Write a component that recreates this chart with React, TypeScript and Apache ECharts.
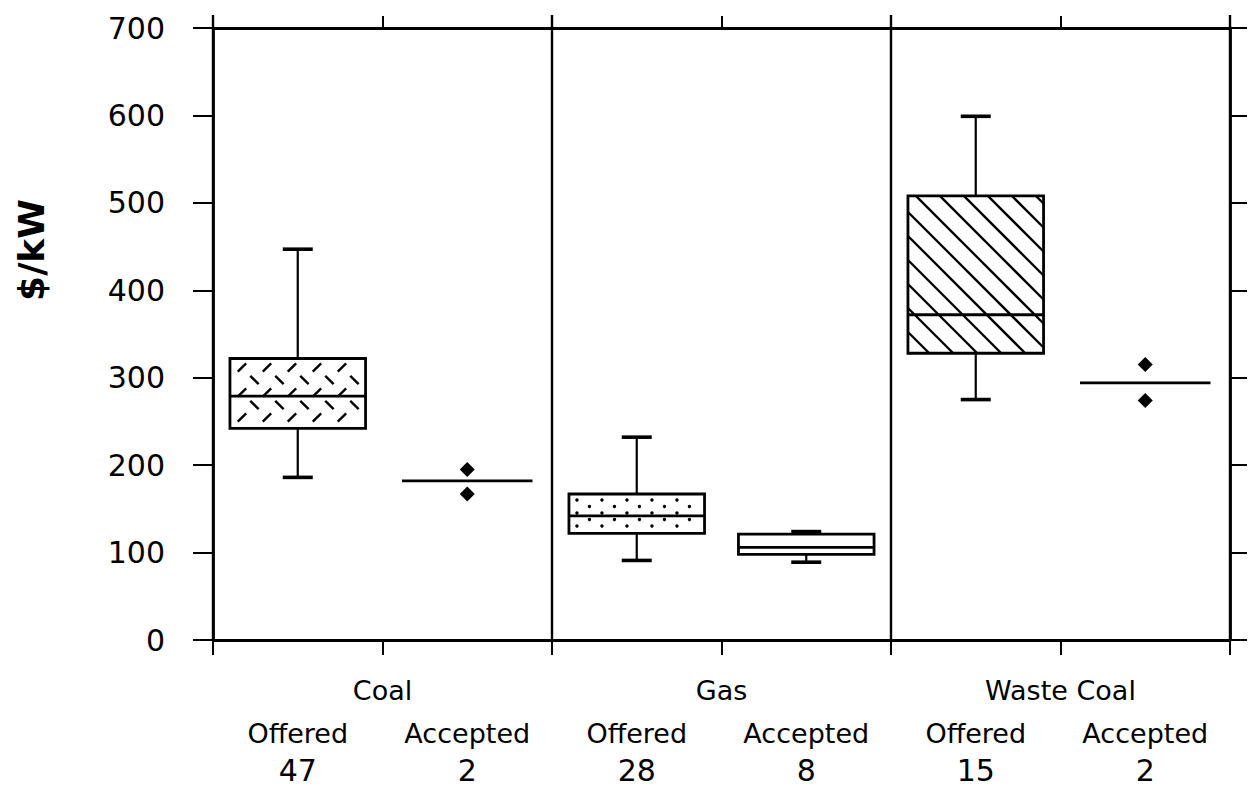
import React, { useEffect, useRef } from 'react';
import * as echarts from 'echarts';

// ---------- data ----------
const groupNames = ['Coal', 'Gas', 'Waste Coal'];
const categories = [
  'Coal Offered', 'Coal Accepted',
  'Gas Offered', 'Gas Accepted',
  'Waste Coal Offered', 'Waste Coal Accepted',
];
const subLabels = ['Offered', 'Accepted', 'Offered', 'Accepted', 'Offered', 'Accepted'];
const counts = [47, 2, 28, 8, 15, 2];

// box statistics ($/kW); null = only the median is drawn (n = 2)
const whiskerLow = [186, null, 91, 89, 275, null];
const quartile1 = [242, null, 122, 98, 328, null];
const medians = [279, 182, 142, 106, 372, 294];
const quartile3 = [322, null, 167, 121, 508, null];
const whiskerHigh = [447, null, 232, 124, 599, null];

// individual accepted bids shown as points
const pointCategory = [1, 1, 5, 5];
const pointValue = [195, 167, 315, 274];

// fill pattern of each box
const fillPatterns = ['plate', 'none', 'dots', 'none', 'hatch', 'none'];

const yMin = 0;
const yMax = 700;
const yInterval = 100;

// ---------- helpers ----------
const BLACK = '#000';
const SANS = "'DejaVu Sans', 'Liberation Sans', sans-serif";

function renderBox(params: any, api: any) {
  const idx = api.value(0);
  const lo = api.value(1);
  const q1 = api.value(2);
  const med = api.value(3);
  const q3 = api.value(4);
  const hi = api.value(5);
  const band = api.size([1, 0])[0];
  const cx = api.coord([idx, med])[0];
  const Y = (v: number) => api.coord([idx, v])[1];
  const children: any[] = [];
  const ln = (x1: number, y1: number, x2: number, y2: number, w: number) => ({
    type: 'line',
    shape: { x1, y1, x2, y2 },
    style: { stroke: BLACK, lineWidth: w, lineCap: 'butt' },
  });

  if (Math.abs(q3 - q1) < 1e-6) {
    const half = (band * 0.77) / 2;
    children.push(ln(cx - half, Y(med), cx + half, Y(med), 2.8));
    return { type: 'group', children };
  }

  const bw = band * 0.8;
  const x0 = cx - bw / 2;
  const x1 = cx + bw / 2;
  const yTop = Y(q3);
  const yBot = Y(q1);
  const capHalf = 15;

  // whiskers
  if (hi > q3) {
    children.push(ln(cx, yTop, cx, Y(hi), 2.2));
    children.push(ln(cx - capHalf, Y(hi), cx + capHalf, Y(hi), 3.6));
  }
  if (lo < q1) {
    children.push(ln(cx, yBot, cx, Y(lo), 2.2));
    children.push(ln(cx - capHalf, Y(lo), cx + capHalf, Y(lo), 3.6));
  }

  children.push({
    type: 'rect',
    shape: { x: x0, y: yTop, width: bw, height: yBot - yTop },
    style: { fill: '#fff', stroke: 'none' },
  });

  const pattern = fillPatterns[idx];
  if (pattern === 'hatch') {
    const s = 24;
    const cMin = x0 - yBot;
    const cMax = x1 - yTop;
    for (let c = Math.ceil(cMin / s) * s; c <= cMax; c += s) {
      const ya = Math.max(yTop, x0 - c);
      const yb = Math.min(yBot, x1 - c);
      if (yb - ya > 1) children.push(ln(ya + c, ya, yb + c, yb, 2.3));
    }
  } else if (pattern === 'dots') {
    let row = 0;
    for (let y = yTop + 6; y < yBot - 3; y += 6.5, row++) {
      for (let x = x0 + 8 + (row % 2) * 12.5; x < x1 - 4; x += 25) {
        children.push({
          type: 'circle',
          shape: { cx: x, cy: y, r: 1.7 },
          style: { fill: BLACK },
        });
      }
    }
  } else if (pattern === 'plate') {
    let row = 0;
    const d = 4.2;
    for (let y = yTop + 9; y < yBot - 5; y += 12.5, row++) {
      const slash = row % 2 === 0;
      for (let x = x0 + 12 + (row % 2) * 12.5; x < x1 - 6; x += 25) {
        if (slash) children.push(ln(x - d, y + d, x + d, y - d, 2.4));
        else children.push(ln(x - d, y - d, x + d, y + d, 2.4));
      }
    }
  }

  children.push({
    type: 'rect',
    shape: { x: x0, y: yTop, width: bw, height: yBot - yTop },
    style: { fill: 'none', stroke: BLACK, lineWidth: 2.8 },
  });
  children.push(ln(x0, Y(med), x1, Y(med), 2.8));
  return { type: 'group', children };
}

export default function App() {
  const ref = useRef<HTMLDivElement>(null);

  useEffect(() => {
    if (!ref.current) return;
    const chart = echarts.init(ref.current, undefined, { renderer: 'svg' });

    const boxData = categories.map((_, i) => {
      const m = medians[i];
      return [
        i,
        whiskerLow[i] ?? m,
        quartile1[i] ?? m,
        m,
        quartile3[i] ?? m,
        whiskerHigh[i] ?? m,
      ];
    });

    const axisLine = { show: true, lineStyle: { color: BLACK, width: 2.8 } };

    chart.setOption({
      animation: false,
      backgroundColor: '#fff',
      grid: { left: 213, right: 21, top: 28, bottom: 160, containLabel: false },
      xAxis: [
        {
          type: 'category',
          data: categories,
          position: 'bottom',
          boundaryGap: true,
          axisLine,
          axisTick: { show: true, length: 15, lineStyle: { color: BLACK, width: 2 } },
          splitLine: { show: false },
          axisLabel: {
            interval: 0,
            margin: 75,
            formatter: (_v: string, i: number) => `{a|${subLabels[i]}}\n{b|${counts[i]}}`,
            rich: {
              a: { fontFamily: SANS, fontSize: 27, lineHeight: 36, color: BLACK },
              b: { fontFamily: SANS, fontSize: 30, lineHeight: 38, color: BLACK },
            },
          },
        },
        {
          type: 'category',
          data: groupNames,
          position: 'bottom',
          axisLine: { show: false },
          axisTick: { show: false },
          splitLine: { show: false },
          axisLabel: {
            interval: 0,
            margin: 34,
            fontFamily: SANS,
            fontSize: 27,
            lineHeight: 32,
            color: BLACK,
          },
        },
        {
          type: 'category',
          data: groupNames,
          position: 'top',
          axisLine,
          axisTick: {
            show: true,
            alignWithLabel: true,
            length: 12,
            lineStyle: { color: BLACK, width: 2 },
          },
          axisLabel: { show: false },
          splitLine: { show: true, lineStyle: { color: BLACK, width: 2.4 } },
        },
        {
          type: 'category',
          data: groupNames,
          position: 'top',
          axisLine: { show: false },
          axisTick: { show: true, length: 13, lineStyle: { color: BLACK, width: 2.4 } },
          axisLabel: { show: false },
          splitLine: { show: false },
        },
      ],
      yAxis: [
        {
          type: 'value',
          position: 'left',
          min: yMin,
          max: yMax,
          interval: yInterval,
          axisLine,
          axisTick: { show: true, length: 20, lineStyle: { color: BLACK, width: 2 } },
          splitLine: { show: false },
          axisLabel: {
            margin: 48,
            fontFamily: SANS,
            fontSize: 30,
            color: BLACK,
          },
        },
        {
          type: 'value',
          position: 'right',
          min: yMin,
          max: yMax,
          interval: yInterval,
          axisLine,
          axisTick: { show: true, length: 17, lineStyle: { color: BLACK, width: 2 } },
          splitLine: { show: false },
          axisLabel: { show: false },
        },
      ],
      graphic: [
        {
          type: 'text',
          x: 31,
          y: 250,
          rotation: Math.PI / 2,
          style: {
            text: '$/kW',
            fontFamily: SANS,
            fontWeight: 'bold',
            fontSize: 36,
            fill: BLACK,
            align: 'center',
            verticalAlign: 'middle',
          },
        },
      ],
      series: [
        {
          type: 'custom',
          xAxisIndex: 0,
          yAxisIndex: 0,
          renderItem: renderBox,
          encode: { x: 0, y: [1, 2, 3, 4, 5] },
          data: boxData,
          z: 3,
        },
        {
          type: 'scatter',
          xAxisIndex: 0,
          yAxisIndex: 0,
          symbol: 'diamond',
          symbolSize: 15,
          itemStyle: { color: BLACK, opacity: 1 },
          data: pointCategory.map((c, i) => [c, pointValue[i]]),
          z: 4,
        },
      ],
    });

    return () => chart.dispose();
  }, []);

  return (
    <div
      ref={ref}
      style={{ position: 'fixed', left: 0, top: 0, width: 1251, height: 800, background: '#fff' }}
    />
  );
}
